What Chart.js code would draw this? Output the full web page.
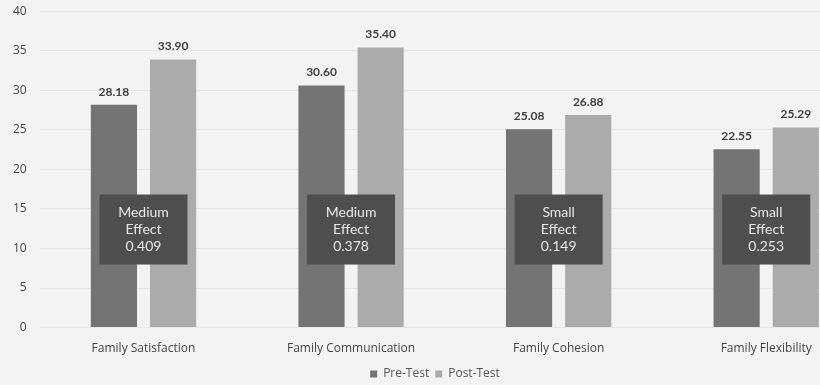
<!DOCTYPE html>
<html lang="en">
<head>
    <meta charset="UTF-8">
    <title>Family Functioning Pre/Post Test</title>
    <script src="https://cdn.jsdelivr.net/npm/chart.js@4.4.1/dist/chart.umd.min.js"></script>
    <style>
        body { margin: 0; background: #f3f3f3; overflow: hidden; }
        #myChart { display: block; margin-top: -9px; }
    </style>
</head>
<body>
    <canvas id="myChart" width="876" height="399"></canvas>
    <script>
        const categories = ['Family Satisfaction', 'Family Communication', 'Family Cohesion', 'Family Flexibility'];
        const preTest = [28.18, 30.60, 25.08, 22.55];
        const postTest = [33.90, 35.40, 26.88, 25.29];
        const effectSizes = ['Medium', 'Medium', 'Small', 'Small'];
        const effectValues = ['0.409', '0.378', '0.149', '0.253'];
        const yTicks = [0, 5, 10, 15, 20, 25, 30, 35, 40];

        // value labels above each bar
        const valueLabels = {
            id: 'valueLabels',
            afterDatasetsDraw(chart) {
                const ctx = chart.ctx;
                ctx.save();
                ctx.font = 'bold 12px Lato';
                ctx.fillStyle = '#3f3f3f';
                ctx.textAlign = 'center';
                ctx.textBaseline = 'bottom';
                chart.data.datasets.forEach((ds, i) => {
                    chart.getDatasetMeta(i).data.forEach((bar, j) => {
                        ctx.fillText(ds.data[j].toFixed(2), bar.x, bar.y - 7);
                    });
                });
                ctx.restore();
            }
        };

        // dark box with effect size in the middle of each group
        const effectBoxes = {
            id: 'effectBoxes',
            afterDatasetsDraw(chart) {
                const ctx = chart.ctx;
                const x = chart.scales.x;
                const y = chart.scales.y;
                const w = 88, h = 70;
                ctx.save();
                categories.forEach((c, i) => {
                    const cx = x.getPixelForValue(i);
                    const cy = y.getPixelForValue(12.4);
                    ctx.fillStyle = '#4e4e4e';
                    ctx.fillRect(cx - w / 2, cy - h / 2, w, h);
                    ctx.fillStyle = '#e6e6e6';
                    ctx.font = '14px Lato';
                    ctx.textAlign = 'center';
                    ctx.textBaseline = 'middle';
                    ctx.fillText(effectSizes[i], cx, cy - 17);
                    ctx.fillText('Effect', cx, cy);
                    ctx.fillText(effectValues[i], cx, cy + 17);
                });
                ctx.restore();
            }
        };

        const ctx = document.getElementById('myChart').getContext('2d');
        new Chart(ctx, {
            type: 'bar',
            data: {
                labels: categories,
                datasets: [
                    {
                        label: 'Pre-Test',
                        data: preTest,
                        backgroundColor: '#747474',
                        categoryPercentage: 0.57,
                        barPercentage: 0.78
                    },
                    {
                        label: 'Post-Test',
                        data: postTest,
                        backgroundColor: '#ababab',
                        categoryPercentage: 0.57,
                        barPercentage: 0.78
                    }
                ]
            },
            options: {
                responsive: false,
                animation: false,
                layout: { padding: { left: 0, top: 0, right: 6, bottom: 0 } },
                plugins: {
                    tooltip: { enabled: false },
                    legend: {
                        position: 'bottom',
                        labels: {
                            boxWidth: 7,
                            boxHeight: 7,
                            padding: 6,
                            color: '#555',
                            font: { family: 'Open Sans', size: 12 }
                        }
                    }
                },
                scales: {
                    x: {
                        grid: { display: false },
                        border: { display: false },
                        ticks: {
                            color: '#444',
                            padding: 6,
                            font: { family: 'Open Sans', size: 12 }
                        }
                    },
                    y: {
                        min: 0,
                        max: 40,
                        afterBuildTicks(axis) {
                            axis.ticks = yTicks.map(v => ({ value: v }));
                        },
                        grid: { color: 'rgba(0,0,0,0.05)', drawTicks: false },
                        border: { display: false },
                        ticks: {
                            color: '#444',
                            padding: 13,
                            font: { family: 'Open Sans', size: 12 }
                        }
                    }
                }
            },
            plugins: [valueLabels, effectBoxes]
        });
    </script>
</body>
</html>
